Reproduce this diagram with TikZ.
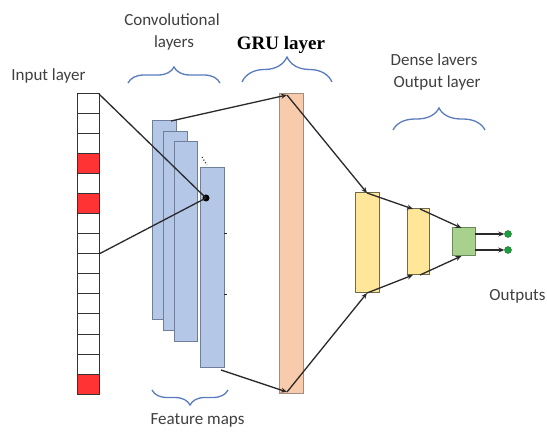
\documentclass[tikz,border=0pt]{standalone}
\usepackage{fontspec}
\setmainfont{Carlito}
\newfontfamily\grufont{Liberation Serif}
\usetikzlibrary{decorations.pathreplacing,arrows.meta}
\definecolor{txt}{HTML}{404040}
\definecolor{brc}{HTML}{5B7BC0}
\definecolor{fmfill}{HTML}{B4C7E7}
\definecolor{fmdraw}{HTML}{6F7F99}
\definecolor{grufill}{HTML}{F8CBAD}
\definecolor{grudraw}{HTML}{A08C80}
\definecolor{dfill}{HTML}{FFE699}
\definecolor{ddraw}{HTML}{6F6A4A}
\definecolor{gfill}{HTML}{A9D18E}
\definecolor{gdraw}{HTML}{6A8A5A}
\definecolor{odot}{HTML}{1E9E3E}
\definecolor{conn}{HTML}{2A2A2A}
\tikzset{
  box/.style={inner sep=0pt, outer sep=0pt, line width=1pt},
  cell/.style={box, draw=black!80, fill=white, minimum width=22pt, minimum height=20pt},
  redcell/.style={cell, fill=red!80!white},
  fmap/.style={box, draw=fmdraw, fill=fmfill, minimum width=24pt},
  gru/.style={box, draw=grudraw, fill=grufill, minimum width=24pt, minimum height=299pt},
  dense/.style={box, draw=ddraw, fill=dfill},
  outbox/.style={box, draw=gdraw, fill=gfill, minimum width=23pt, minimum height=28pt},
  lbl/.style={text=txt, font=\fontsize{17}{19}\selectfont, inner sep=0pt, align=center},
  brace/.style={draw=brc, line width=1.3pt, decorate, decoration={brace, amplitude=#1}},
  link/.style={draw=conn, line width=1.3pt},
  arr/.style={link, -{Stealth[length=6pt,width=5pt]}},
  odotst/.style={circle, fill=odot, draw=odot!70!black, minimum size=7pt, inner sep=0pt},
}
\begin{document}
\begin{tikzpicture}[x=1pt,y=-1pt]
\useasboundingbox (0,0) rectangle (547,433);
\fill[white] (0,0) rectangle (547,433);
% input column
\foreach \i in {1,...,15} {
  \pgfmathsetmacro{\cy}{84+20*\i}
  \ifnum\i=4 \node[redcell] (c\i) at (88,\cy) {};
  \else\ifnum\i=6 \node[redcell] (c\i) at (88,\cy) {};
  \else\ifnum\i=15 \node[redcell] (c\i) at (88,\cy) {};
  \else \node[cell] (c\i) at (88,\cy) {};
  \fi\fi\fi
}
% feature maps
\node[fmap, minimum height=198pt] (f1) at (164,220) {};
\node[fmap, minimum height=198pt] (f2) at (175,231) {};
\node[fmap, minimum height=199pt, minimum width=23pt] (f3) at (185.5,241.5) {};
\node[fmap, minimum height=199pt] (f4) at (212,267.5) {};
\draw[conn, line width=1.1pt, dotted] (202,157) -- (207,165);
\draw[conn, line width=1pt] (f4.east |- 0,234) -- ++(3,0);
\draw[conn, line width=1pt] (f4.east |- 0,295) -- ++(3,0);
% kernel point
\node[circle, fill=black, minimum size=7pt, inner sep=0pt] (k) at (206,198) {};
\draw[link] (c1.north east) -- (k.center);
\draw[link] (c8.south east) -- (k.center);
% GRU
\node[gru] (g) at (291,243.5) {};
\coordinate (gt) at (287,95);
\coordinate (gb) at (287,392);
\draw[arr] ([xshift=-5pt]f1.north east) -- (gt);
\draw[arr] ([xshift=-3pt,yshift=-3pt]f4.south east) -- (gb);
% dense layers
\node[dense, minimum width=24pt, minimum height=100pt] (d1) at (367,243) {};
\node[dense, minimum width=22pt, minimum height=66pt] (d2) at (418,242) {};
\node[outbox] (n) at (463.5,242) {};
\draw[arr] (gt) -- (d1.north);
\draw[arr] (gb) -- (d1.south);
\draw[arr] (d1.north) -- ([xshift=-5pt]d2.north);
\draw[arr] (d1.south) -- ([xshift=-5pt]d2.south);
\draw[arr] ([xshift=2pt]d2.north) -- ([xshift=-2pt]n.north);
\draw[arr] ([xshift=2pt]d2.south) -- ([xshift=-2pt]n.south);
% outputs
\node[odotst] (o1) at (508,234) {};
\node[odotst] (o2) at (508,250) {};
\draw[arr] (n.east |- o1) -- (o1.west);
\draw[arr] (n.east |- o2) -- (o2.west);
% labels
\node[lbl] (linput) at (48.5,76) {Input layer};
\node[lbl] (lconv) at (172,20) {Convolutional};
\node[lbl] (llay) at (174,43) {layers};
\node[font=\grufont\bfseries\fontsize{19}{21}\selectfont, inner sep=0pt] (lgru) at (281,45) {GRU layer};
\node[lbl] (ldense) at (434,60) {Dense lavers};
\node[lbl] (lout) at (437,83) {Output layer};
\node[lbl] (lfeat) at (197.5,420) {Feature maps};
\node[lbl] (louts) at (517.5,296) {Outputs};
% braces
\draw[brace=16pt] (128,83) -- (220,83);
\draw[brace=25pt] (242,82) -- (332,82);
\draw[brace=22pt] (393,130) -- (485,130);
\draw[brace=15pt] (228,390) -- (152,390);
\end{tikzpicture}
\end{document}
